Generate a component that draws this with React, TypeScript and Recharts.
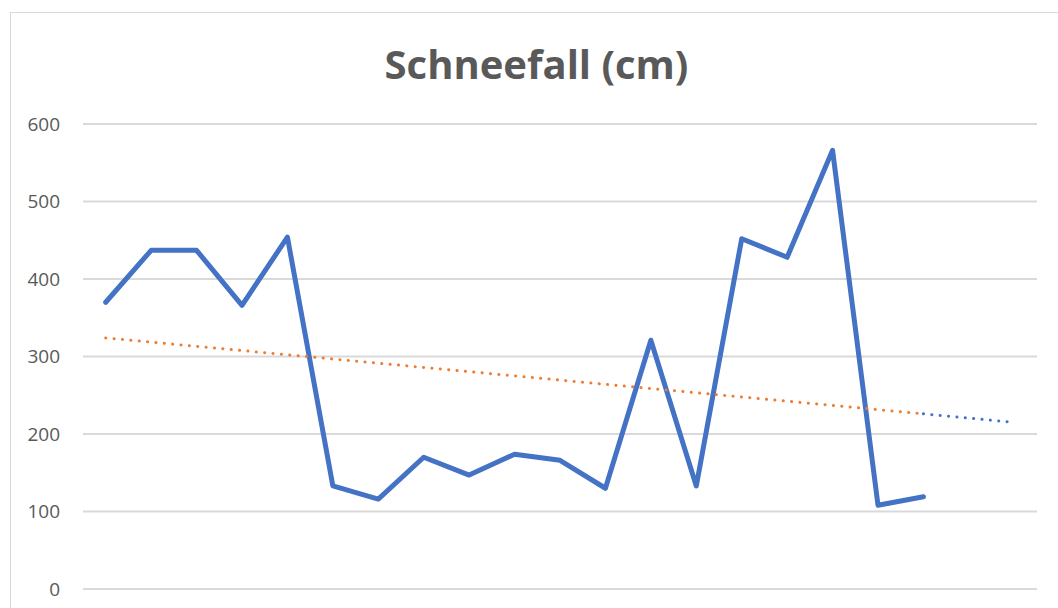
import React from 'react';
import { LineChart, Line, XAxis, YAxis, CartesianGrid } from 'recharts';

const categories = ['1', '2', '3', '4', '5', '6', '7', '8', '9', '10', '11', '12', '13', '14', '15', '16', '17', '18', '19', '20', '21'];
const snowfall = [370, 437, 437, 366, 454, 133, 116, 170, 147, 174, 166, 130, 321, 133, 452, 428, 566, 108, 119];
// linear trend, read at first and last observed point
const trendFit = [324, 226];
// forecast part of the trend, 2 periods forward
const trendForecast = [226, 215];
const yTicks = [0, 100, 200, 300, 400, 500, 600];

const last = snowfall.length - 1;
const data = categories.map((cat, i) => ({
  cat,
  snow: i <= last ? snowfall[i] : null,
  trend: i === 0 ? trendFit[0] : i === last ? trendFit[1] : null,
  forecast: i === last ? trendForecast[0] : i === categories.length - 1 ? trendForecast[1] : null
}));

const App: React.FC = () => {
  return (
    <div style={{ position: 'fixed', left: 0, top: 0, width: 1058, height: 608, overflow: 'hidden', background: '#fff', fontFamily: '"Open Sans", sans-serif' }}>
      <div style={{ position: 'absolute', left: 10, top: 12, width: 1100, height: 700, border: '1px solid #d9d9d9' }} />
      <div style={{ position: 'absolute', left: 0, top: 36, width: 1073, textAlign: 'center', fontSize: 40, fontWeight: 700, color: '#595959', lineHeight: '56px' }}>
        Schneefall (cm)
      </div>
      <div style={{ position: 'absolute', left: 0, top: 0 }}>
        <LineChart width={1058} height={608} data={data} margin={{ top: 124, right: 21, bottom: 19, left: 0 }}>
          <CartesianGrid vertical={false} stroke="#d9d9d9" strokeWidth={2} />
          <XAxis dataKey="cat" scale="band" hide />
          <YAxis
            width={83}
            domain={[0, 600]}
            ticks={yTicks}
            axisLine={false}
            tickLine={false}
            tickMargin={17}
            tick={{ fill: '#595959', fontSize: 19, fontFamily: '"Open Sans", sans-serif' }}
          />
          <Line
            dataKey="snow"
            stroke="#4472C4"
            strokeWidth={5}
            strokeLinejoin="round"
            strokeLinecap="round"
            dot={false}
            isAnimationActive={false}
          />
          <Line
            dataKey="trend"
            stroke="#ED7D31"
            strokeWidth={3}
            strokeDasharray="0.1 8.3"
            strokeLinecap="round"
            connectNulls
            dot={false}
            isAnimationActive={false}
          />
          <Line
            dataKey="forecast"
            stroke="#4472C4"
            strokeWidth={3}
            strokeDasharray="0.1 8.3"
            strokeLinecap="round"
            connectNulls
            dot={false}
            isAnimationActive={false}
          />
        </LineChart>
      </div>
    </div>
  );
};

export default App;
